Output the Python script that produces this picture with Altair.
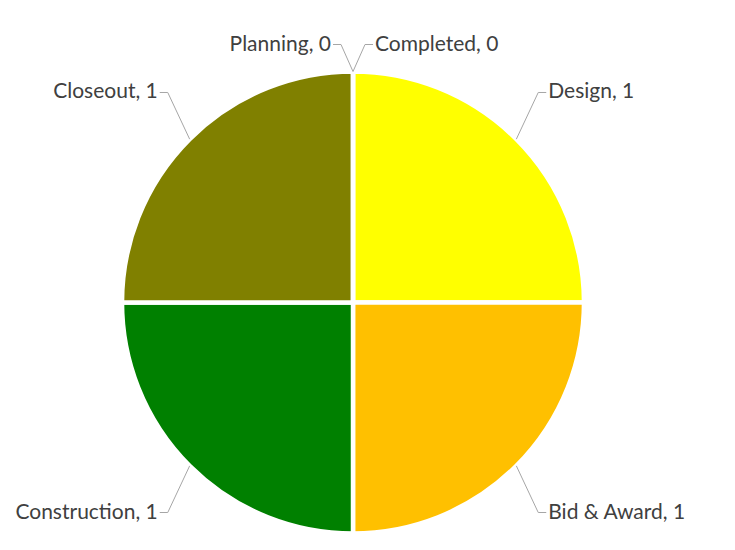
import altair as alt
import pandas as pd

stages = ["Completed", "Design", "Bid & Award", "Construction", "Closeout", "Planning"]
counts = [0, 1, 1, 1, 1, 0]
colors = ["#FFFF00", "#FFFF00", "#FFC000", "#008000", "#808000", "#808000"]

df = pd.DataFrame({"stage": stages, "value": counts, "idx": list(range(len(stages))),
                   "color": colors})
df["label"] = df["stage"] + ", " + df["value"].astype(str)

W, H = 719, 534
xs = alt.Scale(domain=[-345, 374], nice=False, zero=False)
ys = alt.Scale(domain=[-239.5, 294.5], nice=False, zero=False)
R = 231
RX = 245
RY = 297
TOP = 258

base = alt.Chart(df)

pie = base.mark_arc(radius=R, stroke="white", strokeWidth=4.5).encode(
    theta=alt.Theta("value:Q", stack=True),
    order=alt.Order("idx:Q"),
    color=alt.Color("color:N", scale=None),
    x=alt.datum(0, scale=xs, axis=None),
    y=alt.datum(0, scale=ys, axis=None),
)

geo = base.transform_joinaggregate(total="sum(value)").transform_window(
    cum="sum(value)", sort=[alt.SortField("idx")], frame=[None, 0]
).transform_calculate(
    mid="(datum.cum - datum.value/2) / datum.total * 2 * PI",
).transform_calculate(
    side="datum.mid < PI ? 1 : -1",
    ax=f"{R} * sin(datum.mid)",
    ay=f"{R} * cos(datum.mid)",
).transform_calculate(
    ex=f"{RX} * sin(datum.mid) + datum.side * 12",
    ey=f"min({RY} * cos(datum.mid), {TOP})",
).transform_calculate(
    hx="datum.ex + datum.side * 8",
).transform_calculate(
    tx="datum.hx + datum.side * 2",
)

line1 = geo.mark_rule(color="#A6A6A6", strokeWidth=1).encode(
    x=alt.X("ax:Q", scale=xs, axis=None), y=alt.Y("ay:Q", scale=ys, axis=None),
    x2="ex:Q", y2="ey:Q",
)
line2 = geo.mark_rule(color="#A6A6A6", strokeWidth=1).encode(
    x=alt.X("ex:Q", scale=xs, axis=None), y=alt.Y("ey:Q", scale=ys, axis=None),
    x2="hx:Q", y2="ey:Q",
)
txt_r = geo.transform_filter("datum.side > 0").mark_text(
    align="left", baseline="middle", font="Lato", fontSize=21, color="#404040"
).encode(
    x=alt.X("tx:Q", scale=xs, axis=None), y=alt.Y("ey:Q", scale=ys, axis=None),
    text="label:N",
)
txt_l = geo.transform_filter("datum.side < 0").mark_text(
    align="right", baseline="middle", font="Lato", fontSize=21, color="#404040"
).encode(
    x=alt.X("tx:Q", scale=xs, axis=None), y=alt.Y("ey:Q", scale=ys, axis=None),
    text="label:N",
)

chart = alt.layer(pie, line1, line2, txt_r, txt_l).properties(
    width=W, height=H, padding=0, autosize=alt.AutoSizeParams(type="none")
).configure_view(stroke=None)

chart.save("out.html", embed_options={"renderer": "svg", "actions": False})
